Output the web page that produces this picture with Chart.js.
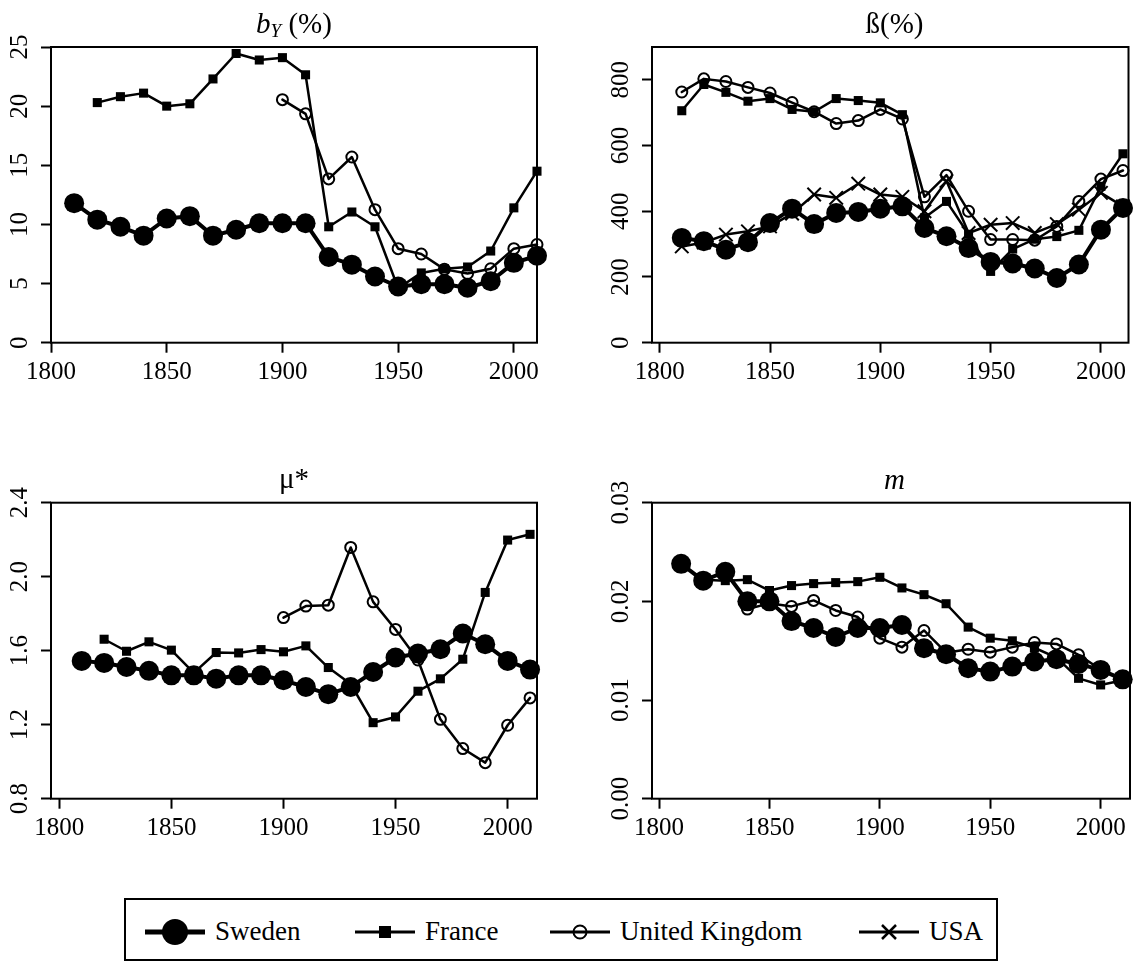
<!DOCTYPE html>
<html>
<head>
<meta charset="utf-8">
<script src="https://cdn.jsdelivr.net/npm/chart.js@4.4.1/dist/chart.umd.min.js"></script>
<style>
    body { margin: 0; background: #fff; }
    #page { position: relative; width: 1140px; height: 962px; font-family: "Liberation Serif", "Times New Roman", serif; color: #000; overflow: hidden; }
    canvas { position: absolute; }
    .title { position: absolute; text-align: center; font-size: 29px; line-height: 29px; white-space: nowrap; }
    #legend { position: absolute; left: 124px; top: 898px; width: 874px; height: 63px; border: 2px solid #000; box-sizing: border-box; }
    .legtext { position: absolute; font-size: 27px; line-height: 28px; white-space: nowrap; }
</style>
</head>
<body>
<div id="page">
    <canvas id="c1" width="570" height="440" style="left:0px;top:0px"></canvas>
    <canvas id="c2" width="570" height="440" style="left:570px;top:0px"></canvas>
    <canvas id="c3" width="570" height="440" style="left:0px;top:455px"></canvas>
    <canvas id="c4" width="570" height="440" style="left:570px;top:455px"></canvas>

    <div class="title" style="left:51px;top:9px;width:486px"><i>b</i><i style="font-size:19px;position:relative;top:4px">Y</i> (%)</div>
    <div class="title" style="left:652px;top:9px;width:485px">ß(%)</div>
    <div class="title" style="left:51px;top:464px;width:486px">μ*</div>
    <div class="title" style="left:652px;top:465px;width:485px"><i>m</i></div>

    <div id="legend"></div>
</div>

<script>
// data, one value per decade, null = no observation
let years = [1810, 1820, 1830, 1840, 1850, 1860, 1870, 1880, 1890, 1900, 1910,
             1920, 1930, 1940, 1950, 1960, 1970, 1980, 1990, 2000, 2010];
let xTicks = [1800, 1850, 1900, 1950, 2000];

// b_Y (%)
let bySweden = [11.8, 10.4, 9.8, 9.05, 10.5, 10.7, 9.05, 9.55, 10.1, 10.1, 10.1,
                7.25, 6.6, 5.6, 4.75, 4.95, 4.95, 4.65, 5.2, 6.75, 7.35];
let byFrance = [null, 20.3, 20.8, 21.1, 20.0, 20.2, 22.3, 24.45, 23.9, 24.1, 22.65,
                9.8, 11.05, 9.8, 4.6, 5.9, 6.25, 6.4, 7.75, 11.4, 14.5];
let byUK = [null, null, null, null, null, null, null, null, null, 20.55, 19.35,
            13.85, 15.7, 11.25, 7.95, 7.5, 6.2, 5.85, 6.25, 7.95, 8.3];
let byTicks = [0, 5, 10, 15, 20, 25];

// ß (%)
let betaSweden = [319, 309, 283, 306, 364, 408, 361, 395, 398, 408, 415,
                  349, 324, 288, 246, 241, 226, 197, 238, 344, 410];
let betaFrance = [706, 786, 762, 735, 743, 710, 703, 743, 737, 730, 694,
                  380, 430, 330, 217, 285, 315, 323, 342, 476, 575];
let betaUK = [763, 803, 795, 777, 760, 731, 703, 667, 676, 710, 681,
              444, 510, 400, 314, 314, 312, 354, 430, 498, 524];
let betaUSA = [293, 305, 329, 339, 354, 393, 451, 441, 484, 451, 444,
               400, 492, 334, 359, 364, 334, 361, 405, 456, 415];
let betaTicks = [0, 200, 400, 600, 800];

// mu*
let muSweden = [1.545, 1.534, 1.512, 1.491, 1.467, 1.467, 1.449, 1.467, 1.467, 1.44, 1.404,
                1.365, 1.404, 1.485, 1.563, 1.585, 1.608, 1.693, 1.635, 1.545, 1.498];
let muFrance = [null, 1.662, 1.597, 1.648, 1.603, 1.48, 1.59, 1.588, 1.606, 1.594, 1.626,
                1.509, 1.42, 1.211, 1.242, 1.381, 1.448, 1.554, 1.915, 2.198, 2.229];
let muUK = [null, null, null, null, null, null, null, null, null, 1.779, 1.841,
            1.846, 2.158, 1.864, 1.715, 1.55, 1.229, 1.071, 0.995, 1.197, 1.345];
let muTicks = [0.8, 1.2, 1.6, 2.0, 2.4];

// m
let mSweden = [0.0238, 0.0221, 0.0230, 0.0200, 0.0200, 0.0180, 0.0173, 0.0164, 0.0173, 0.0173, 0.0176,
               0.01525, 0.01464, 0.01322, 0.01288, 0.01339, 0.0139, 0.01414, 0.01366, 0.01305, 0.0121];
let mFrance = [null, 0.0222, 0.0221, 0.0222, 0.0211, 0.0216, 0.0218, 0.0219, 0.0220, 0.02244, 0.02136,
               0.02068, 0.01976, 0.01739, 0.01627, 0.0160, 0.0153, 0.0143, 0.0122, 0.01153, 0.0120];
let mUK = [null, null, null, 0.01922, 0.0198, 0.01949, 0.0201, 0.01908, 0.01841, 0.01627, 0.01536,
           0.01705, 0.0148, 0.01515, 0.01485, 0.01536, 0.01583, 0.01569, 0.01458, 0.0131, 0.0121];
let mTicks = [0, 0.01, 0.02, 0.03];

let countries = ["Sweden", "France", "United Kingdom", "USA"];

const FONT = '"Liberation Serif", "Times New Roman", serif';

let styles = {
    "Sweden": { pointStyle: 'circle', pointRadius: 10, pointBackgroundColor: '#000', pointBorderWidth: 0, borderWidth: 4, order: 3 },
    "France": { pointStyle: 'rect', pointRadius: 6.4, pointBackgroundColor: '#000', pointBorderWidth: 0, borderWidth: 2.5, order: 2 },
    "United Kingdom": { pointStyle: 'circle', pointRadius: 5.5, pointBackgroundColor: 'rgba(0,0,0,0)', pointBorderWidth: 2, borderWidth: 2.5, order: 1 },
    "USA": { pointStyle: 'crossRot', pointRadius: 9.5, pointBackgroundColor: '#000', pointBorderWidth: 2, borderWidth: 2.5, order: 0 }
};

let makeDataset = function (name, values) {
    let st = styles[name];
    return {
        label: name,
        data: years.map((yr, i) => ({ x: yr, y: values[i] })),
        borderColor: '#000',
        pointBorderColor: '#000',
        borderWidth: st.borderWidth,
        borderJoinStyle: 'round',
        borderCapStyle: 'round',
        pointStyle: st.pointStyle,
        pointRadius: st.pointRadius,
        pointHoverRadius: st.pointRadius,
        pointBackgroundColor: st.pointBackgroundColor,
        pointBorderWidth: st.pointBorderWidth,
        tension: 0,
        spanGaps: false,
        clip: false,
        order: st.order
    };
}

// draws the frame around the plot region
let boxPlugin = {
    id: 'box',
    beforeDatasetsDraw(chart) {
        const a = chart.chartArea;
        const ctx = chart.ctx;
        ctx.save();
        ctx.strokeStyle = '#000';
        ctx.lineWidth = 2;
        ctx.strokeRect(a.left, a.top, a.right - a.left, a.bottom - a.top);
        ctx.restore();
    }
};

let measure = document.createElement('canvas').getContext('2d');
measure.font = '25px ' + FONT;

let makePanel = function (id, p) {
    let labels = p.yTicks.map(v => v.toFixed(p.decimals));
    let widest = Math.max(...labels.map(l => measure.measureText(l).width));
    return new Chart(document.getElementById(id), {
        type: 'line',
        data: { datasets: p.series.map(s => makeDataset(s[0], s[1])) },
        plugins: [boxPlugin],
        options: {
            responsive: false,
            animation: false,
            devicePixelRatio: 1,
            layout: { padding: { left: 0, top: p.top, right: p.right, bottom: 0 } },
            plugins: { legend: { display: false }, tooltip: { enabled: false }, title: { display: false } },
            events: [],
            scales: {
                x: {
                    type: 'linear',
                    min: p.xMin,
                    max: p.xMax,
                    afterBuildTicks: s => { s.ticks = xTicks.map(v => ({ value: v })); },
                    afterFit: s => { s.height = p.xHeight; },
                    border: { display: false },
                    grid: { drawOnChartArea: false, drawTicks: true, tickLength: 10, tickWidth: 2, tickColor: '#000', color: '#000' },
                    ticks: {
                        color: '#000', font: { family: FONT, size: 25 }, padding: 5,
                        maxRotation: 0, minRotation: 0, autoSkip: false,
                        callback: v => String(v)
                    }
                },
                y: {
                    type: 'linear',
                    min: p.yMin,
                    max: p.yMax,
                    afterBuildTicks: s => { s.ticks = p.yTicks.map(v => ({ value: v })); },
                    afterFit: s => { s.width = p.yWidth; },
                    border: { display: false },
                    grid: { drawOnChartArea: false, drawTicks: true, tickLength: 10, tickWidth: 2, tickColor: '#000', color: '#000' },
                    ticks: {
                        color: '#000', font: { family: FONT, size: 25 },
                        minRotation: 90, maxRotation: 90, crossAlign: 'center',
                        padding: 21 - widest / 2, autoSkip: false,
                        callback: v => Number(v).toFixed(p.decimals)
                    }
                }
            }
        }
    });
}

makePanel('c1', {
    series: [["Sweden", bySweden], ["France", byFrance], ["United Kingdom", byUK]],
    xMin: 1800, xMax: 2010, yMin: 0, yMax: 25, yTicks: byTicks, decimals: 0,
    top: 47, right: 33, yWidth: 51, xHeight: 97.3
});
makePanel('c2', {
    series: [["Sweden", betaSweden], ["France", betaFrance], ["United Kingdom", betaUK], ["USA", betaUSA]],
    xMin: 1796.5, xMax: 2012.5, yMin: 0, yMax: 900, yTicks: betaTicks, decimals: 0,
    top: 47, right: 3, yWidth: 82, xHeight: 97.3
});
makePanel('c3', {
    series: [["Sweden", muSweden], ["France", muFrance], ["United Kingdom", muUK]],
    xMin: 1796.3, xMax: 2013.1, yMin: 0.8, yMax: 2.4, yTicks: muTicks, decimals: 1,
    top: 47.7, right: 33, yWidth: 51, xHeight: 96.3
});
makePanel('c4', {
    series: [["Sweden", mSweden], ["France", mFrance], ["United Kingdom", mUK]],
    xMin: 1796.8, xMax: 2013.3, yMin: 0, yMax: 0.03, yTicks: mTicks, decimals: 2,
    top: 47.7, right: 3, yWidth: 82, xHeight: 96.3
});

// legend: line segment with the marker, then the name
let legend = document.getElementById('legend');
let legX = [19, 229, 424, 733];   // segment start inside the box
let svg = '<svg width="870" height="59" style="position:absolute;left:0;top:0">';
countries.forEach(function (name, i) {
    let x0 = legX[i], x1 = x0 + 60, cx = x0 + 30, cy = 32;
    svg += `<line x1="${x0}" y1="${cy}" x2="${x1}" y2="${cy}" stroke="#000" stroke-width="${name === 'Sweden' ? 5 : 3}"/>`;
    if (name === 'Sweden') svg += `<circle cx="${cx}" cy="${cy}" r="13" fill="#000"/>`;
    if (name === 'France') svg += `<rect x="${cx - 6}" y="${cy - 6}" width="12" height="12" fill="#000"/>`;
    if (name === 'United Kingdom') svg += `<circle cx="${cx}" cy="${cy}" r="6.5" fill="none" stroke="#000" stroke-width="2"/>`;
    if (name === 'USA') svg += `<path d="M${cx - 7} ${cy - 7}L${cx + 7} ${cy + 7}M${cx - 7} ${cy + 7}L${cx + 7} ${cy - 7}" stroke="#000" stroke-width="2.5"/>`;
});
svg += '</svg>';
legend.innerHTML = svg + countries.map((name, i) =>
    `<span class="legtext" style="left:${legX[i] + 70}px;top:17px">${name}</span>`).join('');
</script>
</body>
</html>
